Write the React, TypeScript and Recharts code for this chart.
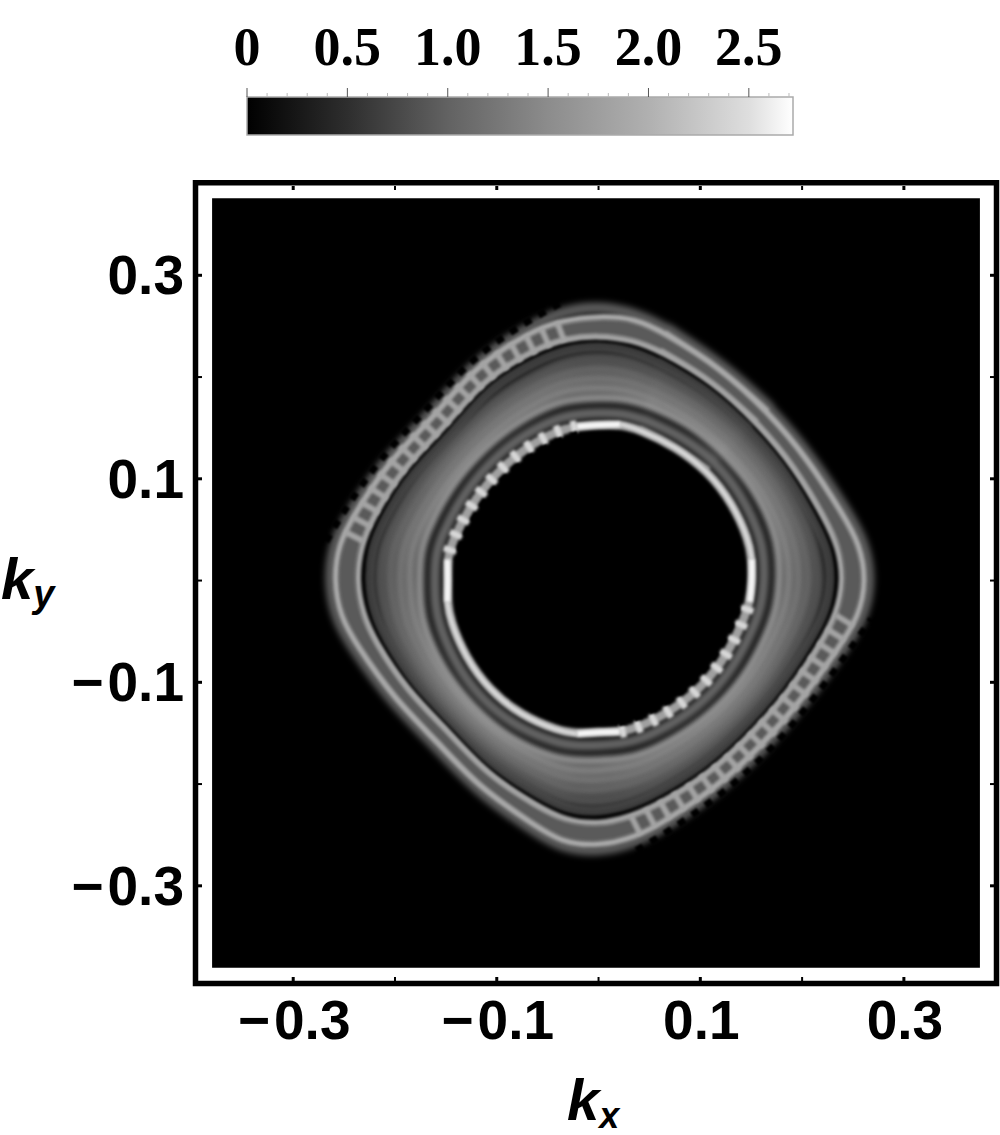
import React from "react";
import { ComposedChart, Line, Area, XAxis, YAxis, ReferenceArea, Label } from "recharts";

// colour bar
const barMajor = [0, 0.5, 1.0, 1.5, 2.0, 2.5];
const barTicks = [0, 0.1, 0.2, 0.3, 0.4, 0.5, 0.6, 0.7, 0.8, 0.9, 1.0, 1.1, 1.2, 1.3, 1.4, 1.5, 1.6, 1.7, 1.8, 1.9, 2.0, 2.1, 2.2, 2.3, 2.4, 2.5, 2.6, 2.7];
const barStops = [0, 0.5, 1.0, 1.5, 2.0, 2.5, 2.72];
const barGrays = ["#000000", "#2e2e2e", "#626262", "#8c8c8c", "#b0b0b0", "#dedede", "#ffffff"];

// main axes
const axisDomain: [number, number] = [-0.396, 0.391];
const majorTicks = [-0.3, -0.1, 0.1, 0.3];
const allTicks = [-0.3, -0.2, -0.1, 0, 0.1, 0.2, 0.3];
const imageX = [-0.3797, 0.3747];
const imageY = [-0.3806, 0.3757];

// contour radii, in k units, at these angles (degrees)
const angles = [0, 8, 15, 30, 45, 60, 75, 82, 90, 98, 105, 120, 135, 150, 165, 172, 180, 188, 195, 210, 225, 240, 255, 262, 270, 278, 285, 300, 315, 330, 345, 352];
const edge = [.275, .272, .260, .247, .245, .251, .263, .273, .277, .275, .265, .252, .238, .246, .260, .271, .272, .269, .257, .241, .234, .244, .259, .273, .274, .268, .257, .243, .238, .241, .257, .271];
const rim = [.268, .264, .254, .242, .239, .245, .257, .265, .270, .267, .259, .247, .232, .241, .254, .263, .265, .261, .251, .236, .228, .239, .253, .265, .267, .260, .251, .238, .232, .236, .251, .263];
const outerBright = [.263, .259, .249, .238, .235, .241, .252, .260, .260, .258, .254, .243, .228, .237, .249, .258, .260, .256, .246, .232, .224, .235, .248, .260, .261, .255, .246, .234, .228, .232, .246, .258];
const outerDark = [.252, .249, .239, .231, .228, .234, .242, .249, .250, .248, .243, .236, .221, .230, .239, .247, .249, .245, .236, .225, .217, .228, .238, .249, .250, .244, .236, .227, .221, .225, .236, .247];
const secondBright = [.241, .238, .231, .223, .220, .226, .234, .239, .241, .240, .236, .228, .213, .222, .231, .236, .238, .234, .228, .217, .209, .220, .230, .238, .240, .234, .228, .219, .213, .217, .228, .236];
const gapDark = [.229, .227, .220, .213, .210, .216, .223, .228, .231, .229, .225, .218, .203, .212, .220, .225, .226, .223, .217, .207, .199, .210, .219, .227, .228, .223, .217, .209, .203, .207, .217, .225];
const band1 = [.218, .215, .212, .207, .203, .208, .213, .218, .220, .218, .213, .206, .197, .203, .210, .215, .216, .213, .210, .201, .195, .204, .212, .218, .218, .214, .209, .201, .196, .200, .208, .214];
const band2 = [.208, .206, .204, .200, .196, .200, .204, .208, .210, .208, .205, .198, .191, .195, .202, .206, .206, .204, .202, .195, .191, .197, .204, .208, .207, .204, .201, .194, .190, .193, .199, .204];
const band3 = [.198, .197, .196, .193, .189, .193, .196, .199, .200, .199, .197, .190, .185, .187, .193, .196, .196, .195, .194, .189, .186, .191, .196, .198, .197, .195, .193, .187, .184, .187, .191, .195];
const band4 = [.188, .188, .188, .186, .182, .186, .188, .190, .190, .190, .189, .183, .178, .180, .185, .187, .186, .186, .186, .183, .181, .185, .188, .189, .187, .186, .185, .180, .178, .180, .183, .186];
const ridge = [.178, .179, .180, .179, .176, .179, .180, .181, .180, .180, .180, .175, .172, .173, .176, .177, .176, .177, .178, .177, .176, .179, .180, .179, .177, .177, .177, .173, .172, .173, .175, .177];
const innerDark = [.163, .164, .165, .164, .164, .164, .165, .166, .165, .165, .165, .161, .158, .158, .161, .162, .161, .162, .163, .163, .164, .165, .165, .164, .162, .162, .162, .159, .158, .158, .160, .162];
const innerBright = [.151, .152, .153, .152, .152, .152, .154, .155, .153, .153, .153, .149, .146, .146, .149, .150, .148, .150, .151, .151, .152, .153, .153, .152, .149, .150, .150, .147, .146, .146, .148, .150];
const holeEdge = [.139, .141, .143, .144, .144, .144, .146, .147, .146, .146, .144, .139, .137, .137, .139, .141, .140, .142, .142, .142, .144, .145, .146, .147, .143, .142, .141, .137, .136, .136, .139, .139];

const toothedArcs = [[9, 10, 11, 12, 13, 14, 15], [25, 26, 27, 28, 29, 30, 31]];
const smoothArcs = [[1, 2, 3, 4, 5, 6, 7], [17, 18, 19, 20, 21, 22, 23]];
const axisArcs = [[31, 0, 1], [7, 8, 9], [15, 16, 17], [23, 24, 25]];
const closedOrder = [4, 5, 6, 7, 8, 9, 10, 11, 12, 13, 14, 15, 16, 17, 18, 19, 20, 21, 22, 23, 24, 25, 26, 27, 28, 29, 30, 31, 0, 1, 2, 3, 4, 5, 6];

const pt = (r: number[], i: number) => ({
  x: r[i] * Math.cos((angles[i] * Math.PI) / 180),
  y: r[i] * Math.sin((angles[i] * Math.PI) / 180),
});
const closed = (r: number[]) => closedOrder.map((i) => pt(r, i));
const arc = (r: number[], idx: number[]) => idx.map((i) => pt(r, i));

const rings: [number[], string, number, string][] = [
  [rim, "#5c5c5c", 11, "wide"],
  [outerDark, "#5a5a5a", 18, "soft"],
  [gapDark, "#3c3c3c", 9, "soft"],
  [band1, "#4e4e4e", 13, "wide"],
  [band2, "#626262", 13, "wide"],
  [band3, "#727272", 13, "wide"],
  [band4, "#808080", 12, "wide"],
  [ridge, "#9a9a9a", 9, "wide"],
  [innerDark, "#686868", 11, "wide"],
  [innerBright, "#a0a0a0", 9, "soft"],
  [outerBright, "#a8a8a8", 6, "soft"],
  [secondBright, "#a4a4a4", 6, "soft"],
];
const arcs: [number[], number[][], string, number, string | undefined, string][] = [
  [outerDark, toothedArcs, "#a4a4a4", 21, "6 10.5", "tooth"],
  [edge, toothedArcs, "#000000", 7, "8 8.5", "softer"],
  [innerBright, toothedArcs, "#d8d8d8", 13, "6 10.5", "tooth"],
  [holeEdge, toothedArcs, "#000000", 6, "8 8.5", "softer"],
  [innerBright, smoothArcs, "#dcdcdc", 4, undefined, "tooth"],
  [innerBright, axisArcs, "#f6f6f6", 6, undefined, "tooth"],
];

const AX_FONT = '"Liberation Sans", Arial, sans-serif';
const SERIF = '"Liberation Serif", "Times New Roman", serif';
const isMajor = (v: number) => majorTicks.some((m) => Math.abs(m - v) < 1e-6);

const TickText = ({ v, ...rest }: any) => (
  <text {...rest} fontFamily={AX_FONT} fontWeight="bold" fontSize={55} fill="#000">
    {v < 0 ? <tspan>{"\u2212"}</tspan> : null}
    <tspan dx={v < 0 ? 4 : 0}>{Math.abs(v).toFixed(1)}</tspan>
  </text>
);
const BottomTick = (p: any) => {
  const v = p.payload.value;
  const major = isMajor(v);
  return (
    <g>
      <line x1={p.x} x2={p.x} y1={981} y2={977} stroke="#000" strokeWidth={major ? 3 : 2} />
      {major && <TickText v={v} x={p.x + 1} y={1039} textAnchor="middle" />}
    </g>
  );
};
const LeftTick = (p: any) => {
  const v = p.payload.value;
  const major = isMajor(v);
  return (
    <g>
      <line x1={198} x2={202} y1={p.y} y2={p.y} stroke="#000" strokeWidth={major ? 3 : 2} />
      {major && <TickText v={v} x={184} y={p.y + 19} textAnchor="end" />}
    </g>
  );
};
const TopTick = (p: any) => (
  <line x1={p.x} x2={p.x} y1={186} y2={190} stroke="#000" strokeWidth={isMajor(p.payload.value) ? 3 : 2} />
);
const RightTick = (p: any) => (
  <line x1={994} x2={990} y1={p.y} y2={p.y} stroke="#000" strokeWidth={isMajor(p.payload.value) ? 3 : 2} />
);
const BarTick = (p: any) => {
  const v = p.payload.value;
  const major = barMajor.some((m) => Math.abs(m - v) < 1e-6);
  return (
    <g>
      <line x1={p.x} x2={p.x} y1={major ? 88 : 93} y2={97} stroke={major ? "#555" : "#bbb"} strokeWidth={1} />
      {major && (
        <text x={p.x} y={65} textAnchor="middle" fontFamily={SERIF} fontWeight="bold" fontSize={54} fill="#000">
          {v === 0 ? "0" : v.toFixed(1)}
        </text>
      )}
    </g>
  );
};

const KxLabel = () => (
  <text x={567} y={1120} fontFamily={AX_FONT} fontWeight="bold" fontStyle="italic" fontSize={58} fill="#000">
    k
    <tspan fontSize={36} dy={8}>x</tspan>
  </text>
);
const KyLabel = () => (
  <text x={1} y={599} fontFamily={AX_FONT} fontWeight="bold" fontStyle="italic" fontSize={58} fill="#000">
    k
    <tspan fontSize={38} dy={8}>y</tspan>
  </text>
);

const barData = barStops.map((v) => ({ v, h: 1 }));

export default function App() {
  return (
    <div style={{ position: "absolute", left: 0, top: 0, width: 1000, height: 1135, background: "#fff", overflow: "hidden" }}>
      <style>{`.wide path{filter:blur(3px)} .soft path{filter:blur(1.8px)} .tooth path{filter:blur(1.6px)} .softer path{filter:blur(1.1px)}`}</style>
      <div style={{ position: "absolute", left: 0, top: 0 }}>
        <ComposedChart width={1000} height={140} data={barData} margin={{ left: 247, right: 207, top: 96, bottom: 5 }}>
          <defs>
            <linearGradient id="grayGrad" x1="0" y1="0" x2="1" y2="0">
              {barStops.map((v, i) => (
                <stop key={v} offset={v / 2.72} stopColor={barGrays[i]} />
              ))}
            </linearGradient>
          </defs>
          <XAxis dataKey="v" type="number" orientation="top" domain={[0, 2.72]} ticks={barTicks} interval={0} height={1} axisLine={false} tickLine={false} tick={<BarTick />} />
          <YAxis type="number" domain={[0, 1]} hide />
          <Area dataKey="h" type="linear" fill="url(#grayGrad)" fillOpacity={1} stroke="none" isAnimationActive={false} dot={false} activeDot={false} />
          <ReferenceArea x1={0} x2={2.72} y1={0} y2={1} fill="none" stroke="#aaa" strokeWidth={1.5} />
        </ComposedChart>
      </div>
      <div style={{ position: "absolute", left: 0, top: 0 }}>
        <ComposedChart width={1000} height={1135} margin={{ left: 0, right: 2.5, top: 181.7, bottom: 0 }}>
          <XAxis xAxisId="b" dataKey="x" type="number" domain={axisDomain} allowDataOverflow ticks={allTicks} interval={0} height={151.5} axisLine={false} tickLine={false} tick={<BottomTick />}>
            <Label content={<KxLabel />} />
          </XAxis>
          <XAxis xAxisId="t" dataKey="x" type="number" orientation="top" domain={axisDomain} allowDataOverflow ticks={allTicks} interval={0} height={1} axisLine={false} tickLine={false} tick={<TopTick />} />
          <YAxis yAxisId="l" dataKey="y" type="number" domain={axisDomain} allowDataOverflow ticks={allTicks} interval={0} width={195.5} axisLine={false} tickLine={false} tick={<LeftTick />}>
            <Label content={<KyLabel />} />
          </YAxis>
          <YAxis yAxisId="r" dataKey="y" type="number" orientation="right" domain={axisDomain} allowDataOverflow ticks={allTicks} interval={0} width={1} axisLine={false} tickLine={false} tick={<RightTick />} />
          <ReferenceArea xAxisId="b" yAxisId="l" x1={axisDomain[0]} x2={axisDomain[1]} y1={axisDomain[0]} y2={axisDomain[1]} fill="#fff" stroke="#000" strokeWidth={5.5} fillOpacity={1} />
          <ReferenceArea xAxisId="b" yAxisId="l" x1={imageX[0]} x2={imageX[1]} y1={imageY[0]} y2={imageY[1]} fill="#000" fillOpacity={1} stroke="none" />
          {rings.map(([r, color, w, cls], i) => (
            <Line key={"ring" + i} className={cls} xAxisId="b" yAxisId="l" data={closed(r)} dataKey="y" type="basis" stroke={color} strokeWidth={w} dot={false} activeDot={false} isAnimationActive={false} legendType="none" />
          ))}
          {arcs.flatMap(([r, sets, color, w, dash, cls], i) =>
            sets.map((idx, j) => (
              <Line key={"arc" + i + "-" + j} className={cls} xAxisId="b" yAxisId="l" data={arc(r, idx)} dataKey="y" type="basis" stroke={color} strokeWidth={w} strokeDasharray={dash} dot={false} activeDot={false} isAnimationActive={false} legendType="none" />
            ))
          )}
        </ComposedChart>
      </div>
    </div>
  );
}
